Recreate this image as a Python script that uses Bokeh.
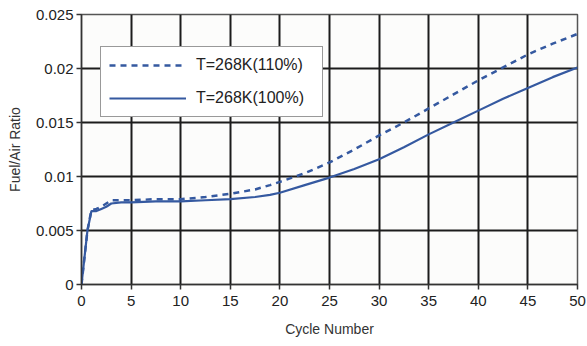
from bokeh.plotting import figure
from bokeh.models import Legend, LegendItem, FixedTicker
from bokeh.embed import file_html
from bokeh.resources import INLINE

cycles = [0, 0.3, 0.6, 1.0, 1.5, 2.0, 2.5, 3.0, 4, 5, 7.5, 10, 12.5, 15, 17.5, 19,
          20, 22.5, 25, 27.5, 30, 32.5, 35, 37.5, 40, 42.5, 45, 47.5, 50]
far_100 = [0, 0.0025, 0.0050, 0.0068, 0.0068, 0.0070, 0.0072, 0.0075, 0.0076, 0.0076,
           0.0077, 0.0077, 0.0078, 0.0079, 0.0081, 0.0083, 0.0085, 0.0092, 0.0099,
           0.0107, 0.0116, 0.0127, 0.0139, 0.0150, 0.0161, 0.0172, 0.0182, 0.0192, 0.0201]
far_110 = [0, 0.0025, 0.0050, 0.0069, 0.0070, 0.0072, 0.0075, 0.0078, 0.0078, 0.0078,
           0.0079, 0.0079, 0.0081, 0.0084, 0.0088, 0.0092, 0.0095, 0.0103, 0.0113,
           0.0125, 0.0138, 0.0150, 0.0163, 0.0176, 0.0189, 0.0201, 0.0213, 0.0223, 0.0232]
series_labels = ["T=268K(110%)", "T=268K(100%)"]
x_ticks = [0, 5, 10, 15, 20, 25, 30, 35, 40, 45, 50]
y_ticks = [0, 0.005, 0.01, 0.015, 0.02, 0.025]
y_tick_labels = ["0", "0.005", "0.01", "0.015", "0.02", "0.025"]

FONT = "Liberation Sans"
BLUE = "#3559a0"
GRID = "#1c1c1c"

p = figure(width=587, height=346, output_backend="svg", toolbar_location=None,
           x_range=(0, 50), y_range=(0, 0.025))
p.min_border_left = 81
p.min_border_right = 10
p.min_border_top = 14
p.min_border_bottom = 62
p.background_fill_color = "#fcfcfb"
p.border_fill_color = "#ffffff"
p.outline_line_color = "#555555"
p.outline_line_width = 1.5

for ax in (p.xaxis[0], p.yaxis[0]):
    ax.major_label_text_font = FONT
    ax.major_label_text_font_size = "15px"
    ax.major_label_text_color = "#222222"
    ax.axis_label_text_font = FONT
    ax.axis_label_text_font_size = "14px"
    ax.axis_label_text_font_style = "normal"
    ax.axis_label_text_color = "#333333"
    ax.axis_line_color = "#333333"
    ax.axis_line_width = 1.5
    ax.major_tick_line_color = "#333333"
    ax.major_tick_line_width = 1.5
    ax.major_tick_out = 5
    ax.major_tick_in = 0
    ax.minor_tick_line_color = None

p.xaxis.ticker = FixedTicker(ticks=x_ticks)
p.yaxis.ticker = FixedTicker(ticks=y_ticks)
p.yaxis.major_label_overrides = {t: l for t, l in zip(y_ticks, y_tick_labels)}
p.xaxis.axis_label = "Cycle Number"
p.yaxis.axis_label = "Fuel/Air Ratio"
p.xaxis.major_label_standoff = 6
p.yaxis.major_label_standoff = 3
p.xaxis.axis_label_standoff = 12
p.yaxis.axis_label_standoff = 10

for g in (p.xgrid[0], p.ygrid[0]):
    g.grid_line_color = GRID
    g.grid_line_width = 2
    g.grid_line_alpha = 1.0
    g.level = "underlay"

r110 = p.line(cycles, far_110, line_color=BLUE, line_width=2.5, line_dash="6 5")
r100 = p.line(cycles, far_100, line_color=BLUE, line_width=2.2)

legend = Legend(items=[LegendItem(label=series_labels[0], renderers=[r110]),
                       LegendItem(label=series_labels[1], renderers=[r100])],
                location=(19, 167), margin=0, padding=8, spacing=13,
                glyph_width=77, glyph_height=20, label_height=20, label_width=118,
                label_standoff=10,
                label_text_font=FONT, label_text_font_size="16px",
                label_text_color="#222222",
                border_line_color="#333333", border_line_width=1.5,
                background_fill_color="#ffffff", background_fill_alpha=1)
p.add_layout(legend, "center")

open("out.html", "w").write(file_html(p, INLINE))
